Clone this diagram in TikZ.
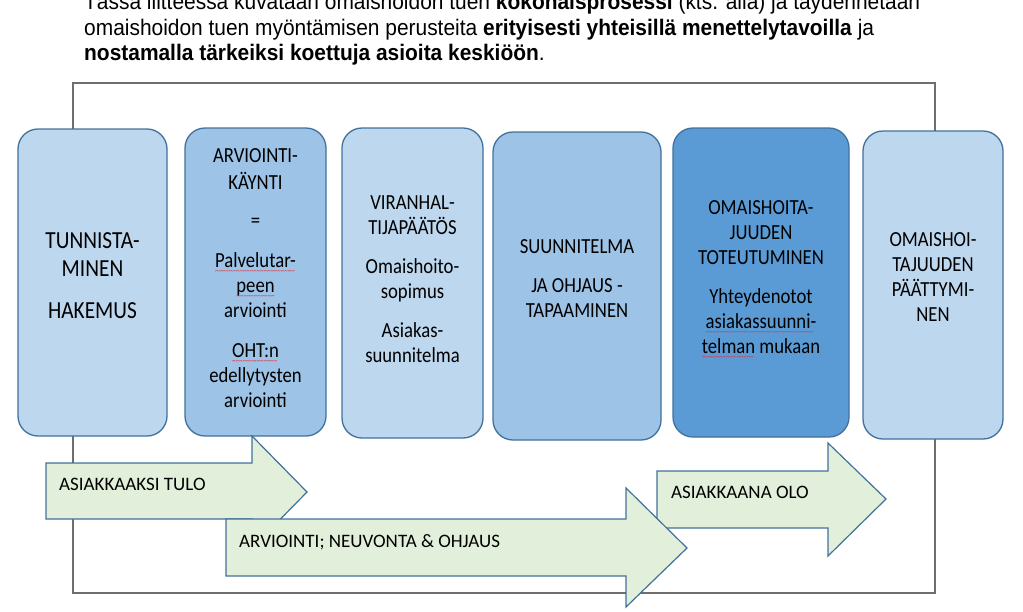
\documentclass[tikz,border=0pt]{standalone}
\usepackage{fontspec}
\setmainfont{Carlito}
\newfontfamily\headfont[FakeStretch=0.93]{Liberation Sans}
\newfontfamily\stagefont[FakeStretch=0.87]{Carlito}

\definecolor{lightstage}{HTML}{BDD7EE}
\definecolor{midstage}{HTML}{9DC3E6}
\definecolor{darkstage}{HTML}{5B9BD5}
\definecolor{stageline}{HTML}{41719C}
\definecolor{flowfill}{HTML}{E2EFDA}
\definecolor{frameline}{HTML}{6E6E6E}
\definecolor{spellred}{HTML}{E0303A}

\tikzset{
  stage/.style={draw=stageline, line width=1.3pt, rounded corners=20pt, inner sep=0pt},
  stagetext/.style={anchor=north, align=center, inner sep=0pt, font=\stagefont\fontsize{21.5}{25}\selectfont},
  flow/.style={draw=stageline, fill=flowfill, line width=1.2pt, line join=miter},
  flowtext/.style={anchor=base west, inner sep=0pt, font=\fontsize{19}{23}\selectfont},
  headtext/.style={anchor=base west, inner sep=0pt, font=\headfont\fontsize{22.5}{25}\selectfont}
}
% red spelling wave under a word
\newcommand{\spellmark}[1]{\setbox0\hbox{#1}\rlap{\color{spellred}\raisebox{-6pt}[0pt][0pt]{\fontsize{8}{8}\selectfont\leaders\hbox{\char`\~}\hskip\wd0}}\box0\relax}

\begin{document}
\begin{tikzpicture}[x=1pt, y=-1pt]
  \useasboundingbox (0,0) rectangle (1023,611);

  % frame behind everything
  \draw[frameline, line width=1.3pt] (73,83) rectangle (935,593);

  % header lines
  \node[headtext] (h1) at (84,9) {Tässä liitteessä kuvataan omaishoidon tuen \textbf{kokonaisprosessi} (kts. alla) ja täydennetään};
  \node[headtext] (h2) at (84,35) {omaishoidon tuen myöntämisen perusteita \textbf{erityisesti yhteisillä menettelytavoilla} ja};
  \node[headtext] (h3) at (84,60) {\textbf{nostamalla tärkeiksi koettuja asioita keskiöön}.};

  % stages
  \node[stage, fill=lightstage, minimum width=149pt, minimum height=307pt] (s1) at (92.5,282.5) {};
  \node[stage, fill=midstage, minimum width=141pt, minimum height=308pt] (s2) at (255.5,282) {};
  \node[stage, fill=lightstage, minimum width=141pt, minimum height=310pt] (s3) at (412.5,283) {};
  \node[stage, fill=midstage, minimum width=168pt, minimum height=308pt] (s4) at (577,286) {};
  \node[stage, fill=darkstage, minimum width=176pt, minimum height=309pt] (s5) at (761,282.5) {};
  \node[stage, fill=lightstage, minimum width=140pt, minimum height=308pt] (s6) at (933,285) {};

  \node[stagetext, font=\stagefont\fontsize{24.5}{28}\selectfont] (t1) at (92.5,232.3) {TUNNISTA-\\MINEN\\[14pt]HAKEMUS};
  \node[stagetext] (t2) at (255.5,148.4) {ARVIOINTI-\\[2pt]KÄYNTI\\[13pt]=\\[15pt]\spellmark{Palvelutar-}\\\spellmark{peen}\\arviointi\\[15pt]\spellmark{OHT:n}\\edellytysten\\arviointi};
  \node[stagetext] (t3) at (412.5,195.4) {VIRANHAL-\\TIJAPÄÄTÖS\\[14pt]Omaishoito-\\sopimus\\[14pt]Asiakas-\\suunnitelma};
  \node[stagetext] (t4) at (577,239.4) {SUUNNITELMA\\[14pt]JA OHJAUS -\\TAPAAMINEN};
  \node[stagetext] (t5) at (761,200.4) {OMAISHOITA-\\JUUDEN\\TOTEUTUMINEN\\[14pt]Yhteydenotot\\\spellmark{asiakassuunni-}\\\spellmark{telman} mukaan};
  \node[stagetext] (t6) at (933,232.4) {OMAISHOI-\\TAJUUDEN\\PÄÄTTYMI-\\NEN};

  % flow arrows, the middle one on top
  \draw[flow] (46,463) -- (252,463) -- (252,436) -- (307,492) -- (252,548) -- (252,519) -- (46,519) -- cycle;
  \node[flowtext] (f1) at (59,490.5) {ASIAKKAAKSI TULO};

  \draw[flow] (657,471) -- (828,471) -- (828,443) -- (886,499) -- (828,556) -- (828,528) -- (657,528) -- cycle;
  \node[flowtext] (f3) at (671,498) {ASIAKKAANA OLO};

  \draw[flow] (226,519) -- (626,519) -- (626,488) -- (687,548) -- (626,607) -- (626,576) -- (226,576) -- cycle;
  \node[flowtext] (f2) at (239,547.5) {ARVIOINTI; NEUVONTA \& OHJAUS};
\end{tikzpicture}
\end{document}
